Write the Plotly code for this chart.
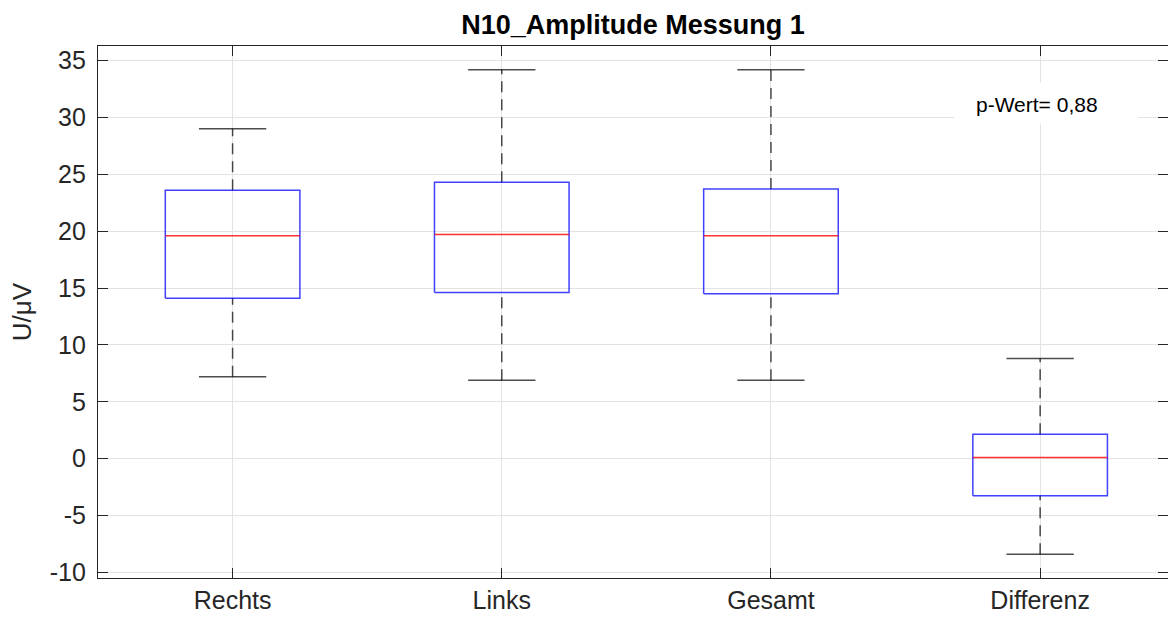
import plotly.graph_objects as go

categories = ["Rechts", "Links", "Gesamt", "Differenz"]
lower_whisker = [7.2, 6.9, 6.9, -8.4]
q1 = [14.1, 14.6, 14.5, -3.25]
median = [19.6, 19.7, 19.6, 0.1]
q3 = [23.6, 24.3, 23.7, 2.15]
upper_whisker = [29.0, 34.2, 34.2, 8.8]
y_ticks = [-10, -5, 0, 5, 10, 15, 20, 25, 30, 35]
p_text = "p-Wert= 0,88"

BOX_HW = 0.25
CAP_HW = 0.125
pos = list(range(1, len(categories) + 1))

bx, by, mx, my, wx, wy, cx, cy = [], [], [], [], [], [], [], []
for i, p in enumerate(pos):
    bx += [p - BOX_HW, p + BOX_HW, p + BOX_HW, p - BOX_HW, p - BOX_HW, None]
    by += [q1[i], q1[i], q3[i], q3[i], q1[i], None]
    mx += [p - BOX_HW, p + BOX_HW, None]
    my += [median[i], median[i], None]
    wx += [p, p, None, p, p, None]
    wy += [q3[i], upper_whisker[i], None, lower_whisker[i], q1[i], None]
    cx += [p - CAP_HW, p + CAP_HW, None, p - CAP_HW, p + CAP_HW, None]
    cy += [upper_whisker[i], upper_whisker[i], None, lower_whisker[i], lower_whisker[i], None]

fig = go.Figure()
fig.add_trace(go.Scatter(x=wx, y=wy, mode="lines", hoverinfo="skip",
                         line=dict(color="rgba(0,0,0,0.7)", width=1.5, dash="11px,7px")))
fig.add_trace(go.Scatter(x=cx, y=cy, mode="lines", hoverinfo="skip",
                         line=dict(color="rgba(0,0,0,0.7)", width=1.5)))
fig.add_trace(go.Scatter(x=bx, y=by, mode="lines", hoverinfo="skip",
                         line=dict(color="rgba(0,0,255,0.75)", width=1.5)))
fig.add_trace(go.Scatter(x=mx, y=my, mode="lines", hoverinfo="skip",
                         line=dict(color="rgba(255,0,0,0.8)", width=1.5)))

# white background box of the p-value text
fig.add_annotation(x=4.023, y=31.25, xref="x", yref="y", text=" ", showarrow=False,
                   width=183, height=40, bgcolor="white", borderpad=0)
fig.add_annotation(x=3.99, y=31.1, xref="x", yref="y", text=p_text, showarrow=False,
                   font=dict(family="Liberation Sans, Arial", size=21, color="black"))

axis_common = dict(showline=True, linecolor="#262626", linewidth=1.2, mirror="ticks",
                   ticks="inside", ticklen=10, tickwidth=1.2, tickcolor="#262626",
                   showgrid=True, gridcolor="#e3e3e3", gridwidth=1, zeroline=False,
                   automargin=False,
                   tickfont=dict(family="Liberation Sans, Arial", size=25, color="#262626"))

fig.update_layout(
    width=1168, height=619,
    margin=dict(l=98, r=0, t=46, b=41),
    plot_bgcolor="white", paper_bgcolor="white",
    showlegend=False,
    title=dict(text="<b>N10_Amplitude Messung 1</b>", x=0.5, xanchor="center",
               xref="paper", y=1 - 25 / 619, yref="container", yanchor="middle",
               font=dict(family="Liberation Sans, Arial", size=27, color="black")),
    xaxis=dict(range=[0.5, 4.475], tickvals=pos, ticktext=categories, **axis_common),
    yaxis=dict(range=[-10.49, 36.28], tickvals=y_ticks,
               ticktext=[str(v) for v in y_ticks], ticklabelstandoff=6,
               title=dict(text="U/μV", standoff=10,
                          font=dict(family="Liberation Sans, Arial", size=26, color="#262626")),
               **axis_common),
)

fig.write_html("out.html", config={"displayModeBar": False},
               post_script="document.body.style.margin='0';document.body.style.overflow='hidden';")
